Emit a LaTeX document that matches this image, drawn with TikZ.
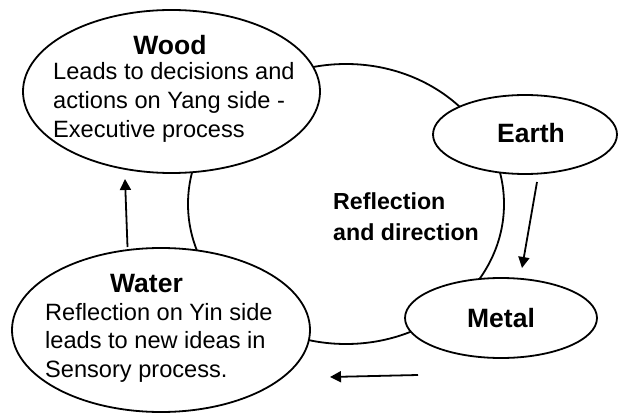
\documentclass[tikz,border=0pt]{standalone}
\usepackage{fontspec}
\setmainfont{Liberation Sans}
\usetikzlibrary{shapes.geometric,arrows.meta}
\begin{document}
\begin{tikzpicture}[x=1pt,y=-1pt,
  ring/.style={draw=black, line width=1.8pt, ellipse, inner sep=0pt},
  elem/.style={draw=black, line width=1.8pt, fill=white, ellipse, inner sep=0pt},
  ttl/.style={font=\fontsize{26.5}{30}\selectfont\bfseries, anchor=base, inner sep=0pt},
  body/.style={font=\fontsize{23.6}{28}\selectfont, anchor=base west, inner sep=0pt},
  note/.style={font=\fontsize{23.2}{28}\selectfont\bfseries, anchor=base west, inner sep=0pt},
  flow/.style={line width=1.8pt, -{Triangle[length=11pt,width=11pt]}}
]
\useasboundingbox (0,0) rectangle (618,414);
% central cycle
\node[ring, minimum width=316pt, minimum height=280pt] (cycle) at (346,204) {};
% elements
\node[elem, minimum width=297pt, minimum height=163pt] (wood) at (171.5,91.5) {};
\node[elem, minimum width=184pt, minimum height=79pt] (earth) at (525,134.5) {};
\node[elem, minimum width=192pt, minimum height=80pt] (metal) at (501,318) {};
\node[elem, minimum width=298pt, minimum height=164pt] (water) at (161,330) {};
% texts
\node[ttl] (woodt) at (170,55) {Wood};
\node[body] (wood1) at (53,80) {Leads to decisions and};
\node[body] (wood2) at (53,109) {actions on Yang side -};
\node[body] (wood3) at (53,138) {Executive process};
\node[ttl] (eartht) at (531,143) {Earth};
\node[ttl] (metalt) at (501,327) {Metal};
\node[ttl] (watert) at (146.5,292) {Water};
\node[body] (water1) at (45,320) {Reflection on Yin side};
\node[body] (water2) at (45,348.5) {leads to new ideas in};
\node[body] (water3) at (45,377) {Sensory process.};
\node[note] (refl1) at (333,210) {Reflection};
\node[note] (refl2) at (333,240) {and direction};
% arrows
\coordinate (a1s) at (127.5,247);
\coordinate (a1e) at (125,179);
\coordinate (a2s) at (537,182);
\coordinate (a2e) at (522,268);
\coordinate (a3s) at (418,375);
\coordinate (a3e) at (330,377);
\draw[flow] (a1s) -- (a1e);
\draw[flow] (a2s) -- (a2e);
\draw[flow] (a3s) -- (a3e);
\end{tikzpicture}
\end{document}
